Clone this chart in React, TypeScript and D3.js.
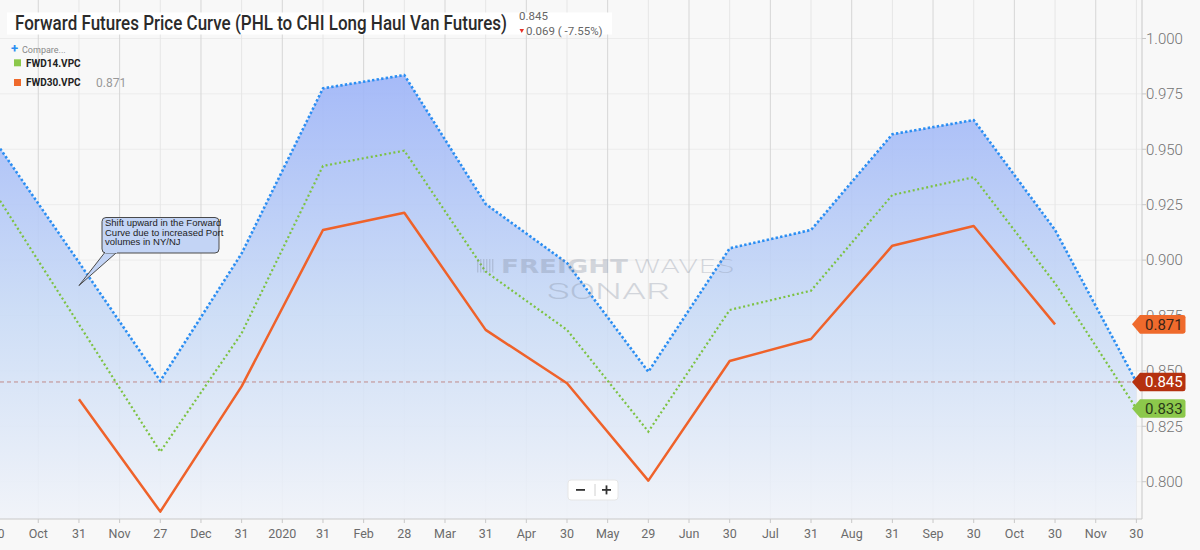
import * as d3 from 'd3'

// x axis slots (equally spaced), month labels sit between contract dates
const tickLabels = [
  '30', 'Oct', '31', 'Nov', '27', 'Dec', '31', '2020', '31', 'Feb', '28', 'Mar', '31', 'Apr', '30',
  'May', '29', 'Jun', '30', 'Jul', '31', 'Aug', '31', 'Sep', '30', 'Oct', '30', 'Nov', '30',
]

// contract expiry dates, one for every other slot
const contracts = [
  '2019-09-30', '2019-10-31', '2019-11-27', '2019-12-31', '2020-01-31', '2020-02-28', '2020-03-31',
  '2020-04-30', '2020-05-29', '2020-06-30', '2020-07-31', '2020-08-31', '2020-09-30', '2020-10-30',
  '2020-11-30',
]

const curve = [0.952, 0.899, 0.8455, 0.903, 0.9775, 0.9835, 0.9253, 0.8987, 0.8496, 0.9053, 0.9136, 0.9568, 0.9632, 0.9136, 0.845]
const fwd14 = [0.9285, 0.871, 0.8135, 0.867, 0.9425, 0.9494, 0.8948, 0.8685, 0.8226, 0.8775, 0.8862, 0.9294, 0.9374, 0.8895, 0.833]
const fwd30 = [null, 0.8372, 0.7865, 0.843, 0.9136, 0.9214, 0.8685, 0.8444, 0.8005, 0.8545, 0.8644, 0.9065, 0.9154, 0.871, null]

const yTickValues = [0.8, 0.825, 0.85, 0.875, 0.9, 0.925, 0.95, 0.975, 1.0]

const lastPrice = 0.845
const change = '0.069 ( -7.55%)'

type V = number | null

export default function App() {
  const width = 1200
  const height = 550
  const plotRight = 1142
  const plotBottom = 519

  const slot = (i: number) => i * 2
  const x = d3
    .scalePoint<number>()
    .domain(d3.range(tickLabels.length))
    .range([-2.4, 1136.4])
  const y = d3.scaleLinear().domain([0.78317, 1.01737]).range([plotBottom, 0])

  const cx = (_: V, i: number) => x(slot(i))!
  const line = d3
    .line<V>()
    .defined((d) => d != null)
    .x(cx)
    .y((d) => y(d as number))
  const area = d3
    .area<V>()
    .defined((d) => d != null)
    .x(cx)
    .y0(plotBottom)
    .y1((d) => y(d as number))

  const lastOf = (s: V[]) => s.filter((d) => d != null).slice(-1)[0] as number

  const badges = [
    { v: lastOf(fwd30), bg: '#ef6a2c', fg: '#3b2418' },
    { v: lastOf(curve), bg: '#b5310f', fg: '#ffffff' },
    { v: lastOf(fwd14), bg: '#8cc84b', fg: '#2a3a1a' },
  ]

  const annX = x(slot(1))!
  const annY = y(0.8885)

  return (
    <svg
      width={width}
      height={height}
      style={{ position: 'absolute', left: 0, top: 0, background: '#f8f8f8' }}
      fontFamily="Roboto, sans-serif"
    >
      <defs>
        <clipPath id="plot">
          <rect x={0} y={0} width={plotRight} height={plotBottom} />
        </clipPath>
        <linearGradient id="fill" gradientUnits="userSpaceOnUse" x1={0} y1={60} x2={0} y2={plotBottom}>
          <stop offset="0%" stopColor="#9ab1f8" />
          <stop offset="55%" stopColor="#c9dbf6" />
          <stop offset="100%" stopColor="#f0f3f9" />
        </linearGradient>
      </defs>

      {/* grid */}
      <g>
        {yTickValues.map((v) => (
          <line key={v} x1={0} x2={plotRight} y1={y(v)} y2={y(v)} stroke="#ececec" />
        ))}
        {tickLabels.map((_, i) => (
          <line
            key={i}
            x1={x(i)}
            x2={x(i)}
            y1={0}
            y2={plotBottom}
            stroke={i % 2 === 1 ? '#d6d6d6' : '#e6e6e6'}
          />
        ))}
      </g>

      <g clipPath="url(#plot)">
        <path d={area(curve)!} fill="url(#fill)" fillOpacity={0.9} />
        <line
          x1={0}
          x2={plotRight}
          y1={y(lastPrice)}
          y2={y(lastPrice)}
          stroke="#c08a8a"
          strokeDasharray="4 3"
        />
        <path d={line(fwd30)!} fill="none" stroke="#ef622a" strokeWidth={2.5} strokeLinejoin="round" />
        <path d={line(fwd14)!} fill="none" stroke="#7cc242" strokeWidth={2.2} strokeDasharray="2 2.6" />
        <path d={line(curve)!} fill="none" stroke="#2b8ef2" strokeWidth={2.6} strokeDasharray="2.4 2.2" />
      </g>

      {/* watermark */}
      <g fill="#7d8799" opacity={0.3} textAnchor="middle">
        <g>
          {d3.range(6).map((k) => (
            <rect key={k} x={477 + k * 3} y={259} width={1.4} height={13.5} />
          ))}
        </g>
        <text
          x={564.5}
          y={272.7}
          fontSize={19.5}
          fontWeight={900}
          fontFamily="'DejaVu Sans', sans-serif"
          textLength={127}
          lengthAdjust="spacingAndGlyphs"
        >
          FREIGHT
        </text>
        <text
          x={684}
          y={272.7}
          fontSize={19.5}
          fontWeight={300}
          fontFamily="'DejaVu Sans', sans-serif"
          textLength={102}
          lengthAdjust="spacingAndGlyphs"
        >
          WAVES
        </text>
        <text
          x={608.5}
          y={299.3}
          fontSize={22.5}
          fontWeight={300}
          textLength={123}
          lengthAdjust="spacingAndGlyphs"
        >
          SONAR
        </text>
      </g>

      {/* annotation */}
      <g fontFamily="'Liberation Sans', Arial, sans-serif">
        <path
          d={`M106,251 L${annX},${annY} L116,253`}
          fill="#c3d4f5"
          stroke="#4a4a4a"
          strokeWidth={1}
        />
        <rect x={102} y={217.5} width={117} height={35.5} rx={4} fill="#c3d4f5" stroke="#4a4a4a" />
        <path d="M105,252.3 L117,252.3" stroke="#c3d4f5" strokeWidth={1.6} />
        <text fontSize={9.5} fill="#222">
          <tspan x={105} y={226}>Shift upward in the Forward</tspan>
          <tspan x={105} y={235.5}>Curve due to increased Port</tspan>
          <tspan x={105} y={245}>volumes in NY/NJ</tspan>
        </text>
      </g>

      {/* x axis */}
      <g>
        <line x1={0} x2={plotRight} y1={plotBottom} y2={plotBottom} stroke="#c8c8c8" />
        {tickLabels.map((label, i) => (
          <g key={i} transform={`translate(${x(i)},${plotBottom})`}>
            <line y2={4} stroke="#c8c8c8" />
            <text y={18.5} textAnchor="middle" fontSize={12.5} fill="#6b6b6b">
              {label}
            </text>
          </g>
        ))}
      </g>

      {/* y axis */}
      <g>
        <line x1={plotRight} x2={plotRight} y1={0} y2={plotBottom} stroke="#c8c8c8" />
        {yTickValues.map((v) => (
          <g key={v} transform={`translate(${plotRight},${y(v)})`}>
            <line x2={4} stroke="#c8c8c8" />
            <text x={4} dy="0.35em" fontSize={15} fill="#737373" fontWeight={300}>
              {d3.format('.3f')(v)}
            </text>
          </g>
        ))}
      </g>

      {/* last-value badges */}
      {badges.map((b) => {
        const cy = y(b.v)
        const tip = 1132
        return (
          <g key={b.bg}>
            <path
              d={`M${tip},${cy} L${tip + 8},${cy - 9.3} H1183 Q1185.5,${cy - 9.3} 1185.5,${cy - 7} V${cy + 7} Q1185.5,${cy + 9.3} 1183,${cy + 9.3} H${tip + 8} Z`}
              fill={b.bg}
            />
            <text x={1145} y={cy} dy="0.36em" fontSize={15} fill={b.fg}>
              {d3.format('.3f')(b.v)}
            </text>
          </g>
        )
      })}

      {/* zoom control */}
      <g>
        <rect x={568} y={480} width={50} height={20} rx={3} fill="#ffffff" stroke="#e6e6e6" />
        <line x1={595} x2={595} y1={484} y2={496} stroke="#d0d0d0" />
        <rect x={576} y={489} width={9} height={1.8} fill="#333" />
        <rect x={602} y={489} width={9} height={1.8} fill="#333" />
        <rect x={605.6} y={485.4} width={1.8} height={9} fill="#333" />
      </g>

      {/* title */}
      <g>
        <rect x={7} y={12.5} width={605} height={22} fill="#ffffff" />
        <text
          x={15}
          y={30}
          fontSize={20.5}
          fontWeight={500}
          fill="#2b2b2b"
          textLength={492}
          lengthAdjust="spacingAndGlyphs"
        >
          Forward Futures Price Curve (PHL to CHI Long Haul Van Futures)
        </text>
        <text x={519} y={20} fontSize={11.5} fill="#666">
          {d3.format('.3f')(lastPrice)}
        </text>
        <path d="M519.5,29 L524,29 L521.75,33 Z" fill="#e8322a" />
        <text x={526} y={34.5} fontSize={11.5} fill="#666">
          {change}
        </text>
      </g>

      {/* legend */}
      <g fontSize={10}>
        <text x={11} y={53} fontSize={13} fontWeight={700} fill="#2b8ef2">
          +
        </text>
        <text x={22} y={52.5} fontSize={9} fill="#888">
          Compare...
        </text>
        <rect x={14} y={59.3} width={7} height={7} fill="#8cc84b" />
        <text x={26} y={66.8} fontWeight={700} fill="#222">
          FWD14.VPC
        </text>
        <rect x={14} y={79} width={7} height={7} fill="#ef6a2c" />
        <text x={26} y={86.4} fontWeight={700} fill="#222">
          FWD30.VPC
        </text>
        <text x={96} y={87} fontSize={12} fill="#999">
          {d3.format('.3f')(lastOf(fwd30))}
        </text>
      </g>
      <desc>{contracts.join(',')}</desc>
    </svg>
  )
}
